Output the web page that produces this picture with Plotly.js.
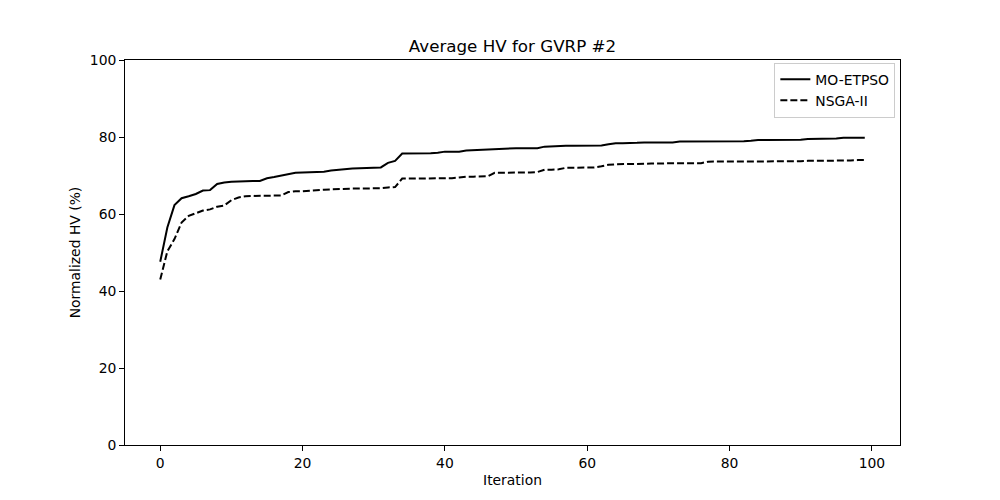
<!DOCTYPE html>
<html>
<head>
<meta charset="utf-8">
<script src="https://cdn.plot.ly/plotly-3.0.1.min.js"></script>
<style>html,body{margin:0;padding:0;background:#fff;}#chart{width:1000px;height:500px;}</style>
</head>
<body>
<div id="chart"></div>
<script>
const iterations = Array.from({length: 100}, (_, i) => i);
const moEtpso = [
47.6,56.5,62.3,64.1,64.6,65.2,66.1,66.2,67.8,68.2,
68.4,68.5,68.6,68.6,68.6,69.3,69.6,70.0,70.3,70.7,
70.8,70.9,71.0,71.0,71.3,71.5,71.6,71.8,71.9,72.0,
72.0,72.1,73.3,73.8,75.7,75.7,75.7,75.8,75.8,75.9,
76.2,76.2,76.2,76.5,76.6,76.6,76.7,76.9,77.0,77.1,
77.1,77.1,77.1,77.1,77.5,77.6,77.6,77.7,77.7,77.7,
77.7,77.8,77.8,78.1,78.4,78.4,78.4,78.5,78.6,78.6,
78.6,78.6,78.6,78.8,78.8,78.8,78.8,78.8,78.9,78.9,
78.9,78.9,78.9,79.0,79.2,79.2,79.2,79.2,79.2,79.3,
79.3,79.5,79.5,79.5,79.5,79.6,79.8,79.8,79.8,79.8];
const nsga2 = [
43.0,50.3,53.5,57.8,59.5,60.2,60.9,61.2,61.9,62.2,
63.6,64.3,64.6,64.7,64.7,64.7,64.7,64.8,65.7,65.9,
65.9,66.1,66.2,66.3,66.4,66.5,66.5,66.6,66.6,66.6,
66.6,66.7,66.9,67.0,69.2,69.2,69.2,69.2,69.3,69.3,
69.3,69.3,69.5,69.7,69.7,69.7,69.8,70.7,70.7,70.7,
70.7,70.8,70.8,70.9,71.5,71.5,71.6,72.0,72.0,72.0,
72.1,72.1,72.4,72.8,72.9,73.0,73.0,73.0,73.1,73.1,
73.1,73.2,73.2,73.2,73.2,73.2,73.2,73.6,73.6,73.6,
73.6,73.6,73.6,73.6,73.7,73.7,73.7,73.7,73.7,73.7,
73.7,73.8,73.8,73.8,73.8,73.8,73.8,73.9,74.0,74.0];
const xTicks = [0, 20, 40, 60, 80, 100];
const yTicks = [0, 20, 40, 60, 80, 100];

const font = {family: 'DejaVu Sans', size: 13.9, color: '#000'};
const traces = [
  {x: iterations, y: moEtpso, mode: 'lines', name: 'MO-ETPSO', line: {color: '#000', width: 2, dash: 'solid'}},
  {x: iterations, y: nsga2, mode: 'lines', name: 'NSGA-II', line: {color: '#000', width: 2, dash: '7px,3px'}}
];
const axisCommon = {
  showline: true, mirror: true, linecolor: '#000', linewidth: 1,
  ticks: 'outside', ticklen: 4.9, tickwidth: 1, tickcolor: '#000',
  showgrid: false, zeroline: false, tickfont: font
};
const layout = {
  width: 1000, height: 500,
  margin: {l: 125, r: 100, t: 60, b: 55},
  paper_bgcolor: '#fff', plot_bgcolor: '#fff',
  font: font,
  title: {text: 'Average HV for GVRP #2', font: {family: 'DejaVu Sans', size: 16.7, color: '#000'}, x: 0.5125, xanchor: 'center', y: 0.908, yanchor: 'middle'},
  xaxis: Object.assign({}, axisCommon, {range: [-4.95, 103.95], tickvals: xTicks, ticktext: xTicks.map(String),
    title: {text: 'Iteration', font: font, standoff: 5}}),
  yaxis: Object.assign({}, axisCommon, {range: [0, 100], tickvals: yTicks, ticktext: yTicks.map(String),
    title: {text: 'Normalized HV (%)', font: font, standoff: 5}}),
  showlegend: true,
  legend: {x: 0.994, y: 0.993, xanchor: 'right', yanchor: 'top', bgcolor: 'rgba(255,255,255,0.8)',
    bordercolor: '#ccc', borderwidth: 1, font: font, tracegroupgap: 0, itemwidth: 30}
};
Plotly.newPlot('chart', traces, layout, {displayModeBar: false, staticPlot: true});
</script>
</body>
</html>
